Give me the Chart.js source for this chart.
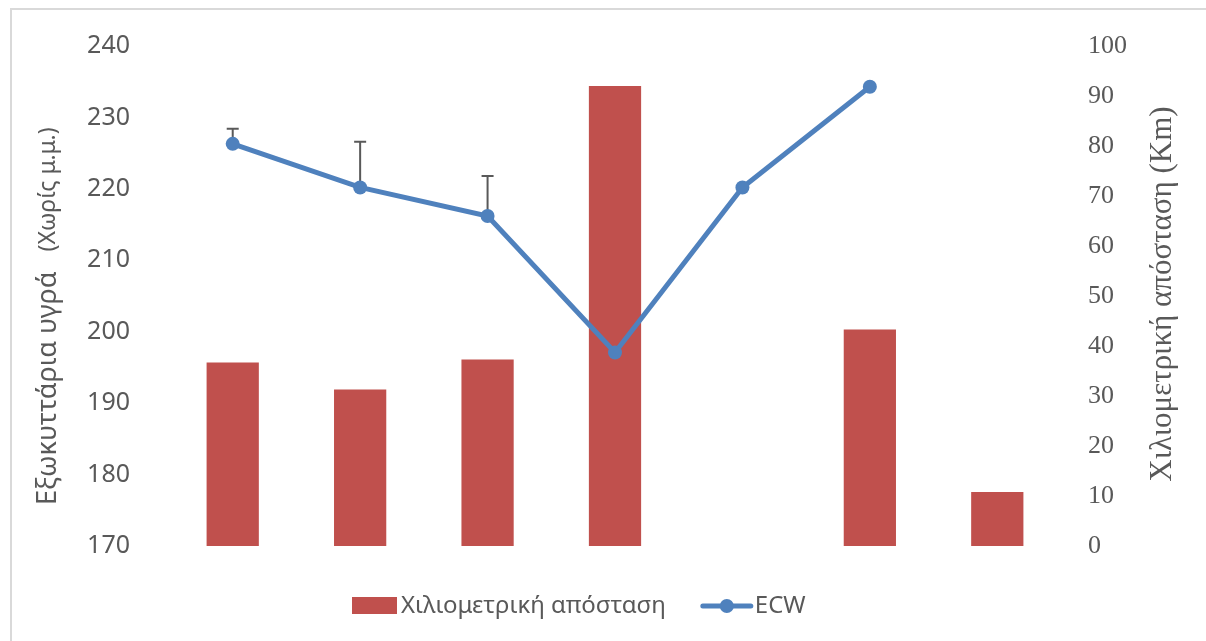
<!DOCTYPE html>
<html>
<head>
<meta charset="utf-8">
<script src="https://cdn.jsdelivr.net/npm/chart.js@4"></script>
<style>
  html, body { margin: 0; padding: 0; background: #fff; }
  #wrap { width: 1206px; height: 641px; position: relative; }
</style>
</head>
<body>
<div id="wrap"><canvas id="chart"></canvas></div>
<script>
// values
const categories = ["1", "2", "3", "4", "5", "6", "7"];
const distanceKm = [36.7, 31.3, 37.3, 92.0, null, 43.3, 10.8];
const ecw = [226.3, 220.2, 216.2, 197.1, 220.2, 234.3, null];
const ecwErrUp = [2.1, 6.4, 5.6, null, null, null, null];

const leftTicks = [170, 240, 10];
const rightTicks = [0, 100, 10];

const barLabel = "Χιλιομετρική απόσταση";
const lineLabel = "ECW";
const leftTitle = "Εξωκυττάρια υγρά";
const leftTitleSmall = "(Χωρίς μ.μ.)";
const rightTitle = "Χιλιομετρική απόσταση (Km)";

const RED = "#C0504D";
const BLUE = "#4F81BD";
const GREY = "#595959";

// frame, axis titles, error bars and legend
const extras = {
  id: "extras",
  beforeDraw(chart) {
    const ctx = chart.ctx;
    ctx.save();
    ctx.fillStyle = "#fff";
    ctx.fillRect(0, 0, chart.width, chart.height);
    ctx.strokeStyle = "#d9d9d9";
    ctx.lineWidth = 2;
    ctx.beginPath();
    ctx.moveTo(11, chart.height);
    ctx.lineTo(11, 9);
    ctx.lineTo(chart.width, 9);
    ctx.stroke();
    ctx.restore();
  },
  beforeDatasetsDraw(chart) {
    const ctx = chart.ctx;
    const x = chart.scales.x;
    const y = chart.scales.y;
    ctx.save();
    ctx.strokeStyle = GREY;
    ctx.lineWidth = 2;
    ecwErrUp.forEach((e, i) => {
      if (e == null || ecw[i] == null) return;
      const px = x.getPixelForValue(i);
      const y0 = y.getPixelForValue(ecw[i]);
      const y1 = y.getPixelForValue(ecw[i] + e);
      ctx.beginPath();
      ctx.moveTo(px, y0);
      ctx.lineTo(px, y1);
      ctx.moveTo(px - 6, y1);
      ctx.lineTo(px + 6, y1);
      ctx.stroke();
    });
    ctx.restore();
  },
  afterDraw(chart) {
    const ctx = chart.ctx;
    const area = chart.chartArea;
    const midY = (area.top + area.bottom) / 2;
    ctx.save();
    ctx.fillStyle = GREY;
    ctx.textBaseline = "middle";

    // left title, two parts
    ctx.save();
    ctx.translate(48, 0);
    ctx.rotate(-Math.PI / 2);
    ctx.textAlign = "left";
    ctx.font = "27px 'Noto Sans'";
    ctx.fillText(leftTitle, -505, 0);
    const w1 = ctx.measureText(leftTitle).width;
    ctx.font = "23px 'Noto Sans'";
    ctx.fillText(leftTitleSmall, -505 + w1 + 20, 0);
    ctx.restore();

    // right title
    ctx.save();
    ctx.translate(1163, midY - 2);
    ctx.rotate(-Math.PI / 2);
    ctx.textAlign = "center";
    ctx.font = "31px 'Liberation Serif'";
    ctx.fillText(rightTitle, 0, 0);
    ctx.restore();

    // legend
    const ly = 606;
    let lx = 352;
    ctx.font = "24px 'Noto Sans'";
    ctx.textAlign = "left";
    ctx.fillStyle = RED;
    ctx.fillRect(lx, ly - 9, 45, 17);
    lx += 49;
    ctx.fillStyle = GREY;
    ctx.fillText(barLabel, lx, ly);
    lx += ctx.measureText(barLabel).width + 37;
    ctx.strokeStyle = BLUE;
    ctx.lineWidth = 5;
    ctx.lineCap = "round";
    ctx.beginPath();
    ctx.moveTo(lx, ly);
    ctx.lineTo(lx + 48, ly);
    ctx.stroke();
    ctx.fillStyle = BLUE;
    ctx.beginPath();
    ctx.arc(lx + 24, ly, 7, 0, Math.PI * 2);
    ctx.fill();
    lx += 52;
    ctx.fillStyle = GREY;
    ctx.fillText(lineLabel, lx, ly);
    ctx.restore();
  }
};

new Chart(document.getElementById("chart"), {
  type: "bar",
  data: {
    labels: categories,
    datasets: [
      {
        type: "line",
        label: lineLabel,
        data: ecw,
        yAxisID: "y",
        borderColor: BLUE,
        backgroundColor: BLUE,
        borderWidth: 5,
        pointRadius: 7,
        pointHoverRadius: 7,
        pointBorderWidth: 0,
        tension: 0,
        order: 1
      },
      {
        label: barLabel,
        data: distanceKm,
        yAxisID: "y1",
        backgroundColor: RED,
        barPercentage: 0.41,
        categoryPercentage: 1,
        order: 2
      }
    ]
  },
  options: {
    responsive: true,
    maintainAspectRatio: false,
    animation: false,
    layout: { padding: { top: 45, bottom: 95, left: 0, right: 0 } },
    plugins: {
      legend: { display: false },
      tooltip: { enabled: false }
    },
    scales: {
      x: { display: false },
      y: {
        position: "left",
        min: leftTicks[0],
        max: leftTicks[1],
        grid: { display: false },
        border: { display: false },
        ticks: {
          stepSize: leftTicks[2],
          padding: 31,
          color: GREY,
          font: { family: "'Noto Sans'", size: 25 }
        },
        afterFit(s) { s.width = 169; }
      },
      y1: {
        position: "right",
        min: rightTicks[0],
        max: rightTicks[1],
        grid: { display: false, drawTicks: false },
        border: { display: false },
        ticks: {
          stepSize: rightTicks[2],
          padding: 27,
          color: GREY,
          font: { family: "'Liberation Serif'", size: 26 }
        },
        afterFit(s) { s.width = 145; }
      }
    }
  },
  plugins: [extras]
});
</script>
</body>
</html>
